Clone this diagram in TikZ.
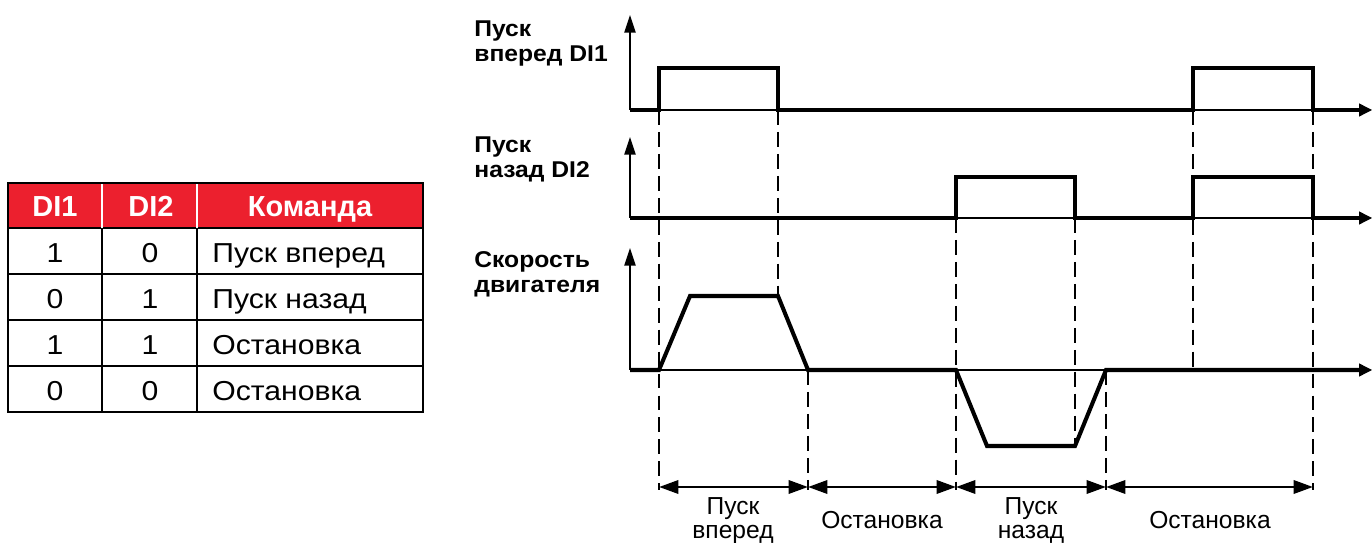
\documentclass[tikz,border=0pt]{standalone}
\usepackage{fontspec}
\setmainfont{Liberation Sans}
\newfontfamily\tabfont[FakeStretch=1.1]{Liberation Sans}
\newfontfamily\axfont[FakeStretch=1.08]{Liberation Sans}
\usetikzlibrary{arrows.meta}
\definecolor{hdrred}{RGB}{236,32,46}
\begin{document}
\begin{tikzpicture}[x=0.02cm,y=-0.02cm,
  haxis/.style={line width=0.75pt, -{Triangle[length=7.4pt,width=7.4pt]}},
  vaxis/.style={line width=0.75pt, -{Triangle[length=10pt,width=6.4pt]}},
  sig/.style={line width=2.3pt, line join=miter},
  guide/.style={line width=0.9pt, dash pattern=on 8.5pt off 4pt},
  spanarrow/.style={line width=1.6pt, {Triangle[length=11pt,width=7.5pt]}-{Triangle[length=11pt,width=7.5pt]}},
  axlabel/.style={font=\axfont\fontsize{13}{15}\selectfont\bfseries, anchor=base west, inner sep=0pt},
  phase/.style={font=\fontsize{14}{16}\selectfont, anchor=base, inner sep=0pt},
  cell/.style={font=\tabfont\fontsize{15.6}{18}\selectfont, anchor=base, inner sep=0pt},
  hcell/.style={font=\fontsize{16.5}{18}\selectfont\bfseries, text=white, anchor=base, inner sep=0pt},
  tline/.style={line width=1.1pt},
]
\useasboundingbox (0,0) rectangle (1372,543);

% ---------------- table ----------------
\fill[hdrred] (8,183) rectangle (423,228);
\foreach \y in {228,274,320,366} \draw[tline] (8,\y) -- (423,\y);
\foreach \x in {102,197} {
  \draw[tline,white] (\x,184) -- (\x,228);
  \draw[tline] (\x,228) -- (\x,412);
}
\draw[tline] (8,183) rectangle (423,412);
\node[hcell] (h1) at (55,217) {DI1};
\node[hcell] (h2) at (151,217) {DI2};
\node[hcell] (h3) at (310,217) {Команда};
\node[cell] (r1a) at (55,263) {1};
\node[cell] (r1b) at (150,263) {0};
\node[cell,anchor=base west] (r1c) at (212,263) {Пуск вперед};
\node[cell] (r2a) at (55,309) {0};
\node[cell] (r2b) at (150,309) {1};
\node[cell,anchor=base west] (r2c) at (212,309) {Пуск назад};
\node[cell] (r3a) at (55,355) {1};
\node[cell] (r3b) at (150,355) {1};
\node[cell,anchor=base west] (r3c) at (212,355) {Остановка};
\node[cell] (r4a) at (55,401) {0};
\node[cell] (r4b) at (150,401) {0};
\node[cell,anchor=base west] (r4c) at (212,401) {Остановка};

% ---------------- axes ----------------
\coordinate (o1) at (630,110); \coordinate (t1) at (630,15);  \coordinate (e1) at (1372,110);
\coordinate (o2) at (630,218); \coordinate (t2) at (630,137); \coordinate (e2) at (1372,218);
\coordinate (o3) at (630,370); \coordinate (t3) at (630,248); \coordinate (e3) at (1372,370);
\draw[vaxis] (o1) -- (t1);
\draw[haxis] (o1) -- (e1);
\draw[vaxis] (o2) -- (t2);
\draw[haxis] (o2) -- (e2);
\draw[vaxis] (o3) -- (t3);
\draw[haxis] (o3) -- (e3);

\node[axlabel] (l1a) at (474,37) {Пуск};
\node[axlabel] (l1b) at (474,62) {вперед DI1};
\node[axlabel] (l2a) at (474,153) {Пуск};
\node[axlabel] (l2b) at (474,178) {назад DI2};
\node[axlabel] (l3a) at (474,268) {Скорость};
\node[axlabel] (l3b) at (474,293) {двигателя};

% ---------------- guides ----------------
\draw[guide] (659,110) -- (659,490);
\draw[guide] (778,110) -- (778,296);
\draw[guide] (808,370) -- (808,490);
\draw[guide] (956,218) -- (956,490);
\draw[guide] (1075,218) -- (1075,446);
\draw[guide] (1106,370) -- (1106,490);
\draw[guide] (1193,110) -- (1193,370);
\draw[guide] (1313,110) -- (1313,490);

% ---------------- signals ----------------
\draw[sig] (o1) -- (659,110) -- (659,68) -- (778,68) -- (778,110) -- (1193,110)
  -- (1193,68) -- (1313,68) -- (1313,110) -- (1360,110);
\draw[sig] (o2) -- (956,218) -- (956,177) -- (1075,177) -- (1075,218) -- (1193,218)
  -- (1193,177) -- (1313,177) -- (1313,218) -- (1360,218);
\draw[sig] (o3) -- (659,370) -- (690,296) -- (778,296) -- (808,370) -- (956,370)
  -- (987,446) -- (1075,446) -- (1106,370) -- (1360,370);

% ---------------- phase spans ----------------
\coordinate (s0) at (659,487);
\coordinate (s1) at (808,487);
\coordinate (s2) at (956,487);
\coordinate (s3) at (1106,487);
\coordinate (s4) at (1313,487);
\draw[spanarrow] (s0) -- (s1);
\draw[spanarrow] (s1) -- (s2);
\draw[spanarrow] (s2) -- (s3);
\draw[spanarrow] (s3) -- (s4);

\node[phase] (p1a) at (733,515) {Пуск};
\node[phase] (p1b) at (733,538) {вперед};
\node[phase] (p2) at (882,528) {Остановка};
\node[phase] (p3a) at (1031,515) {Пуск};
\node[phase] (p3b) at (1031,538) {назад};
\node[phase] (p4) at (1210,528) {Остановка};
\end{tikzpicture}
\end{document}
